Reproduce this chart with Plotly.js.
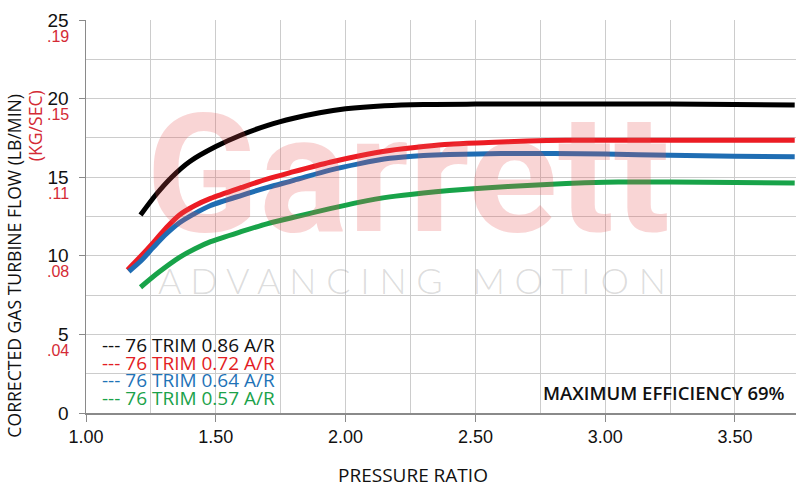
<!DOCTYPE html>
<html>
<head>
<meta charset="utf-8">
<script src="https://cdn.plot.ly/plotly-3.0.1.min.js"></script>
<style>
  html, body { margin: 0; padding: 0; background: #fff; }
  #chart { width: 800px; height: 487px; }
</style>
</head>
<body>
<div id="chart"></div>
<script>
// Pressure ratio / corrected flow
const NAMES = ["76 TRIM 0.86 A/R", "76 TRIM 0.72 A/R", "76 TRIM 0.64 A/R", "76 TRIM 0.57 A/R"];
const LINE_COLORS = ["#000000", "#ec1c24", "#1f6db3", "#18a349"];
const LEGEND_COLORS = ["#111111", "#e31e24", "#1f73b7", "#1ba24a"];

const X_086 = [1.21, 1.27, 1.33, 1.40, 1.50, 1.60, 1.70, 1.80, 1.90, 2.00, 2.15, 2.30, 2.50, 2.75, 3.00, 3.25, 3.50, 3.73];
const Y_086 = [12.6, 13.9, 15.0, 16.0, 16.95, 17.7, 18.3, 18.75, 19.1, 19.35, 19.55, 19.63, 19.65, 19.65, 19.65, 19.65, 19.62, 19.6];

const X_072 = [1.16, 1.21, 1.26, 1.31, 1.36, 1.42, 1.48, 1.60, 1.70, 1.80, 1.94, 2.05, 2.17, 2.30, 2.40, 2.55, 2.70, 2.85, 3.00, 3.25, 3.50, 3.73];
const Y_072 = [9.1, 9.95, 10.85, 11.8, 12.6, 13.2, 13.65, 14.35, 14.9, 15.35, 15.95, 16.35, 16.7, 16.95, 17.1, 17.2, 17.3, 17.35, 17.35, 17.35, 17.35, 17.35];

const X_064 = [1.165, 1.21, 1.26, 1.31, 1.36, 1.42, 1.48, 1.60, 1.70, 1.80, 1.94, 2.05, 2.17, 2.30, 2.40, 2.60, 2.80, 3.00, 3.25, 3.50, 3.73];
const Y_064 = [9.0, 9.65, 10.55, 11.4, 12.1, 12.7, 13.2, 13.85, 14.35, 14.8, 15.45, 15.85, 16.2, 16.38, 16.45, 16.5, 16.5, 16.47, 16.4, 16.33, 16.3];

const X_057 = [1.21, 1.28, 1.36, 1.42, 1.48, 1.60, 1.70, 1.80, 1.94, 2.05, 2.17, 2.30, 2.40, 2.55, 2.70, 2.85, 3.00, 3.10, 3.25, 3.50, 3.73];
const Y_057 = [8.0, 8.95, 9.9, 10.45, 10.9, 11.55, 12.05, 12.45, 13.0, 13.4, 13.75, 14.0, 14.15, 14.33, 14.47, 14.6, 14.68, 14.7, 14.7, 14.67, 14.63];

const X_TICKS = [1.0, 1.5, 2.0, 2.5, 3.0, 3.5];
const X_TICK_TEXT = ["1.00", "1.50", "2.00", "2.50", "3.00", "3.50"];
const Y_TICKS = [0, 5, 10, 15, 20, 25];
const KG_TICKS = [5, 10, 15, 20, 25];
const KG_TEXT = [".04", ".08", ".11", ".15", ".19"];

const XS = [X_086, X_072, X_064, X_057];
const YS = [Y_086, Y_072, Y_064, Y_057];

const traces = NAMES.map((name, i) => ({
  x: XS[i],
  y: YS[i],
  type: "scatter",
  mode: "lines",
  name: name,
  line: { color: LINE_COLORS[i], width: 5, shape: "spline", smoothing: 0.8 },
  hoverinfo: "skip"
}));

const annotations = [];

// watermark
annotations.push({
  xref: "paper", yref: "paper", x: 0.453, y: 0.606,
  xanchor: "center", yanchor: "middle", showarrow: false,
  text: "<b>Garrett</b>",
  font: { family: "Liberation Sans Narrow, Roboto, sans-serif", size: 166, color: "rgba(232,80,80,0.24)" }
});
annotations.push({
  xref: "paper", yref: "paper", x: 0.459, y: 0.338,
  xanchor: "center", yanchor: "middle", showarrow: false,
  text: "A D V A N C I N G   M O T I O N",
  font: { family: "Lato, Open Sans, sans-serif", size: 36, color: "rgba(150,150,150,0.33)", weight: 300 }
});

// kg/sec secondary tick labels
KG_TICKS.forEach((v, i) => {
  annotations.push({
    xref: "paper", yref: "y", x: 0, y: v,
    xanchor: "right", yanchor: "middle", xshift: -15, yshift: -16,
    showarrow: false, text: KG_TEXT[i],
    font: { family: "Liberation Sans, Arial, sans-serif", size: 16, color: "#d42a35" }
  });
});

// axis titles
annotations.push({
  xref: "paper", yref: "paper", x: -0.1014, y: 0.375,
  xanchor: "center", yanchor: "middle", showarrow: false, textangle: -90,
  text: "CORRECTED GAS TURBINE FLOW (LB/MIN)",
  font: { family: "Open Sans, sans-serif", size: 17.6, color: "#111" }
});
annotations.push({
  xref: "paper", yref: "paper", x: -0.0718, y: 0.73,
  xanchor: "center", yanchor: "middle", showarrow: false, textangle: -90,
  text: "(KG/SEC)",
  font: { family: "Open Sans, sans-serif", size: 17.6, color: "#d42a35" }
});
annotations.push({
  xref: "paper", yref: "paper", x: 0.461, y: -0.158,
  xanchor: "center", yanchor: "middle", showarrow: false,
  text: "PRESSURE RATIO",
  font: { family: "Open Sans, sans-serif", size: 19, color: "#111" }
});

// legend text
NAMES.forEach((name, i) => {
  annotations.push({
    xref: "paper", yref: "paper", x: 0.0197, y: 0.173,
    xanchor: "left", yanchor: "middle", yshift: -17.7 * i,
    showarrow: false, text: "--- " + name,
    font: { family: "Open Sans, sans-serif", size: 19, color: LEGEND_COLORS[i] }
  });
});

annotations.push({
  xref: "paper", yref: "paper", x: 0.987, y: 0.051,
  xanchor: "right", yanchor: "middle", showarrow: false,
  text: "MAXIMUM EFFICIENCY 69%",
  font: { family: "Open Sans, sans-serif", size: 18.5, color: "#111", weight: 600 }
});

const layout = {
  width: 800,
  height: 487,
  paper_bgcolor: "#ffffff",
  plot_bgcolor: "#ffffff",
  showlegend: false,
  margin: { l: 86, r: 4, t: 20, b: 74 },
  font: { family: "Liberation Sans, Arial, sans-serif", color: "#111" },
  xaxis: {
    range: [1.0, 3.735],
    tickmode: "array",
    tickvals: X_TICKS,
    ticktext: X_TICK_TEXT,
    ticks: "outside",
    ticklen: 7,
    tickcolor: "#8a8a8a",
    tickfont: { size: 18, color: "#111" },
    showgrid: true,
    gridcolor: "#cccccc",
    gridwidth: 1,
    minor: { dtick: 0.25, showgrid: true, gridcolor: "#cccccc", gridwidth: 1 },
    showline: true,
    linecolor: "#8a8a8a",
    linewidth: 1.5,
    zeroline: false,
    fixedrange: true
  },
  yaxis: {
    range: [0, 25],
    tickmode: "array",
    tickvals: Y_TICKS,
    ticks: "outside",
    ticklen: 6,
    tickcolor: "#8a8a8a",
    ticklabelstandoff: 6,
    tickfont: { size: 19, color: "#111" },
    showgrid: true,
    gridcolor: "#cccccc",
    gridwidth: 1,
    minor: { dtick: 2.5, showgrid: true, gridcolor: "#cccccc", gridwidth: 1 },
    showline: true,
    linecolor: "#8a8a8a",
    linewidth: 1.5,
    zeroline: false,
    fixedrange: true
  },
  annotations: annotations
};

Plotly.newPlot("chart", traces, layout, { displayModeBar: false, staticPlot: true });
</script>
</body>
</html>
